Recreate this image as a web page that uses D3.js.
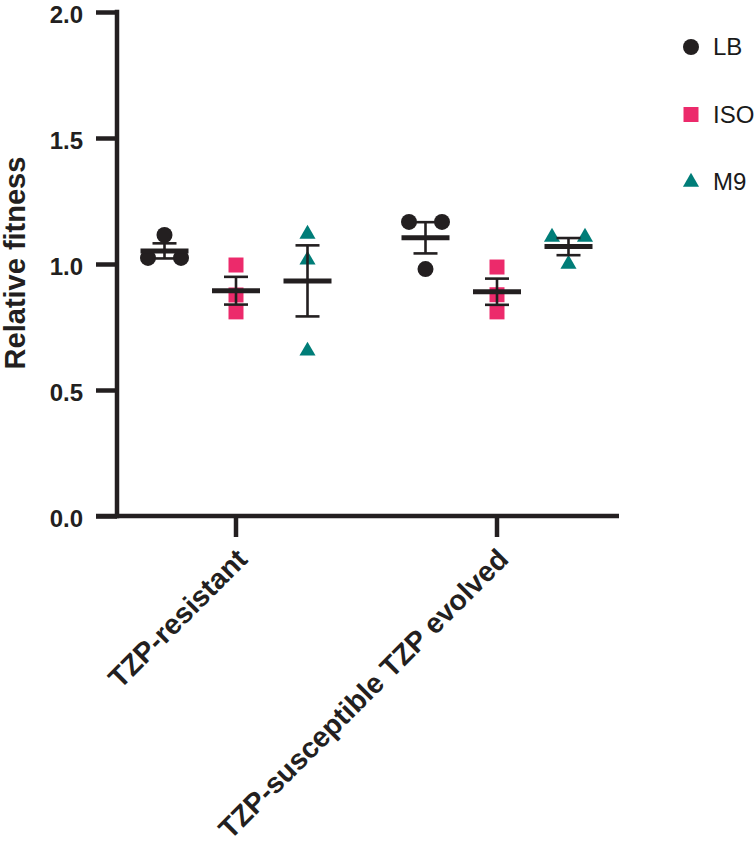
<!DOCTYPE html>
<html>
<head>
<meta charset="utf-8">
<script src="https://cdn.jsdelivr.net/npm/d3@7"></script>
<style>
  html, body { margin: 0; padding: 0; background: #ffffff; }
  svg { display: block; }
  text { font-family: "Liberation Sans", Arial, Helvetica, sans-serif; }
</style>
</head>
<body>
<div id="chart"></div>
<script>
// ---- data ----
const categories = ["TZP-resistant", "TZP-susceptible TZP evolved"];
const seriesNames = ["LB", "ISO", "M9"];
const lbValues  = [[1.115, 1.024, 1.024], [1.167, 1.167, 0.980]];
const isoValues = [[0.996, 0.877, 0.810], [0.988, 0.878, 0.810]];
const m9Values  = [[1.119, 1.016, 0.655], [1.107, 1.107, 1.000]];
const lbMean  = [1.052, 1.104];
const lbSem   = [0.030, 0.062];
const isoMean = [0.894, 0.890];
const isoSem  = [0.055, 0.052];
const m9Mean  = [0.933, 1.069];
const m9Sem   = [0.141, 0.034];
const yTicks  = [0, 0.5, 1.0, 1.5, 2.0];
const yLabel  = "Relative fitness";

// ---- styles ----
const colors = { LB: "#231f20", ISO: "#ec2a6b", M9: "#007d78" };
const symbols = { LB: d3.symbolCircle, ISO: d3.symbolSquare, M9: d3.symbolTriangle };
const symSize = { LB: 201, ISO: 225, M9: 112 };
const ink = "#231f20";

const W = 755, H = 848;
const svg = d3.select("#chart").append("svg").attr("width", W).attr("height", H);

const y = d3.scaleLinear().domain([0, 2]).range([516, 12]);
const x = d3.scaleBand().domain(categories).range([105.5, 627.5]).padding(0);
const sub = d3.scalePoint().domain(seriesNames).range([-71.5, 71.5]);

const valuesBy = { LB: lbValues, ISO: isoValues, M9: m9Values };
const meanBy = { LB: lbMean, ISO: isoMean, M9: m9Mean };
const semBy = { LB: lbSem, ISO: isoSem, M9: m9Sem };

const axisX0 = 117;

// ---- points (with simple collision spread) ----
const pts = [];
categories.forEach((cat, ci) => {
  seriesNames.forEach(s => {
    const cx = x(cat) + x.bandwidth() / 2 + sub(s);
    const vals = valuesBy[s][ci].slice().sort((a, b) => b - a);
    const clusters = [];
    vals.forEach(v => {
      const last = clusters[clusters.length - 1];
      if (last && Math.abs(y(last[last.length - 1]) - y(v)) < 14) last.push(v);
      else clusters.push([v]);
    });
    clusters.forEach(cl => {
      cl.forEach((v, i) => {
        pts.push({ s, v, px: cx + (i - (cl.length - 1) / 2) * 33 });
      });
    });
  });
});

svg.append("g").selectAll("path").data(pts).join("path")
  .attr("d", d => d3.symbol().type(symbols[d.s]).size(symSize[d.s])())
  .attr("transform", d => `translate(${d.px},${y(d.v)})`)
  .attr("fill", d => colors[d.s]);

// ---- mean and SEM bars ----
const bars = [];
categories.forEach((cat, ci) => {
  seriesNames.forEach(s => {
    bars.push({ cx: x(cat) + x.bandwidth() / 2 + sub(s), m: meanBy[s][ci], e: semBy[s][ci] });
  });
});
const gb = svg.append("g").attr("stroke", ink);
gb.selectAll(".v").data(bars).join("line")
  .attr("x1", d => d.cx).attr("x2", d => d.cx)
  .attr("y1", d => y(d.m + d.e)).attr("y2", d => y(d.m - d.e))
  .attr("stroke-width", 2.6);
gb.selectAll(".ct").data(bars).join("line")
  .attr("x1", d => d.cx - 12).attr("x2", d => d.cx + 12)
  .attr("y1", d => y(d.m + d.e)).attr("y2", d => y(d.m + d.e))
  .attr("stroke-width", 2.6);
gb.selectAll(".cb").data(bars).join("line")
  .attr("x1", d => d.cx - 12).attr("x2", d => d.cx + 12)
  .attr("y1", d => y(d.m - d.e)).attr("y2", d => y(d.m - d.e))
  .attr("stroke-width", 2.6);
gb.selectAll(".m").data(bars).join("line")
  .attr("x1", d => d.cx - 24).attr("x2", d => d.cx + 24)
  .attr("y1", d => y(d.m)).attr("y2", d => y(d.m))
  .attr("stroke-width", 5);

// ---- y axis ----
const yAxis = d3.axisLeft(y).tickValues(yTicks).tickFormat(d3.format(".1f"))
  .tickSize(21).tickSizeOuter(0).tickPadding(13);
const gy = svg.append("g").attr("transform", `translate(${axisX0},0)`).call(yAxis);
gy.select(".domain").remove();
gy.selectAll(".tick line").attr("stroke", ink).attr("stroke-width", 4.5);
gy.selectAll(".tick text").attr("fill", ink).attr("font-size", 24).attr("font-weight", "bold")
  .attr("dy", "0.42em");
svg.append("line").attr("x1", axisX0).attr("x2", axisX0)
  .attr("y1", y(2) - 2.25).attr("y2", y(0) + 2.25)
  .attr("stroke", ink).attr("stroke-width", 4.5);

// ---- x axis ----
const xAxis = d3.axisBottom(x).tickSize(21).tickSizeOuter(0).tickFormat("");
const gx = svg.append("g").attr("transform", `translate(0,${y(0)})`).call(xAxis);
gx.select(".domain").remove();
gx.selectAll(".tick line").attr("stroke", ink).attr("stroke-width", 4.5);
svg.append("line").attr("x1", 96).attr("x2", 619)
  .attr("y1", y(0)).attr("y2", y(0))
  .attr("stroke", ink).attr("stroke-width", 4.5);

svg.append("g").selectAll("text").data(categories).join("text")
  .attr("transform", d => `translate(${x(d) + x.bandwidth() / 2 + 13},561) rotate(-45)`)
  .attr("text-anchor", "end")
  .attr("font-size", 28.5).attr("font-weight", "bold").attr("fill", ink)
  .text(d => d);

// ---- y label ----
svg.append("text")
  .attr("transform", "translate(24.5,263) rotate(-90)")
  .attr("text-anchor", "middle")
  .attr("font-size", 29).attr("font-weight", "bold").attr("fill", ink)
  .text(yLabel);

// ---- legend ----
const lg = svg.append("g").selectAll("g").data(seriesNames).join("g")
  .attr("transform", (d, i) => `translate(691,${47 + i * 67.5})`);
lg.append("path")
  .attr("d", d => d3.symbol().type(symbols[d]).size(symSize[d])())
  .attr("fill", d => colors[d]);
lg.append("text").attr("x", 22).attr("dy", "0.35em")
  .attr("font-size", 24).attr("fill", "#1a1a1a")
  .text(d => d);
</script>
</body>
</html>
